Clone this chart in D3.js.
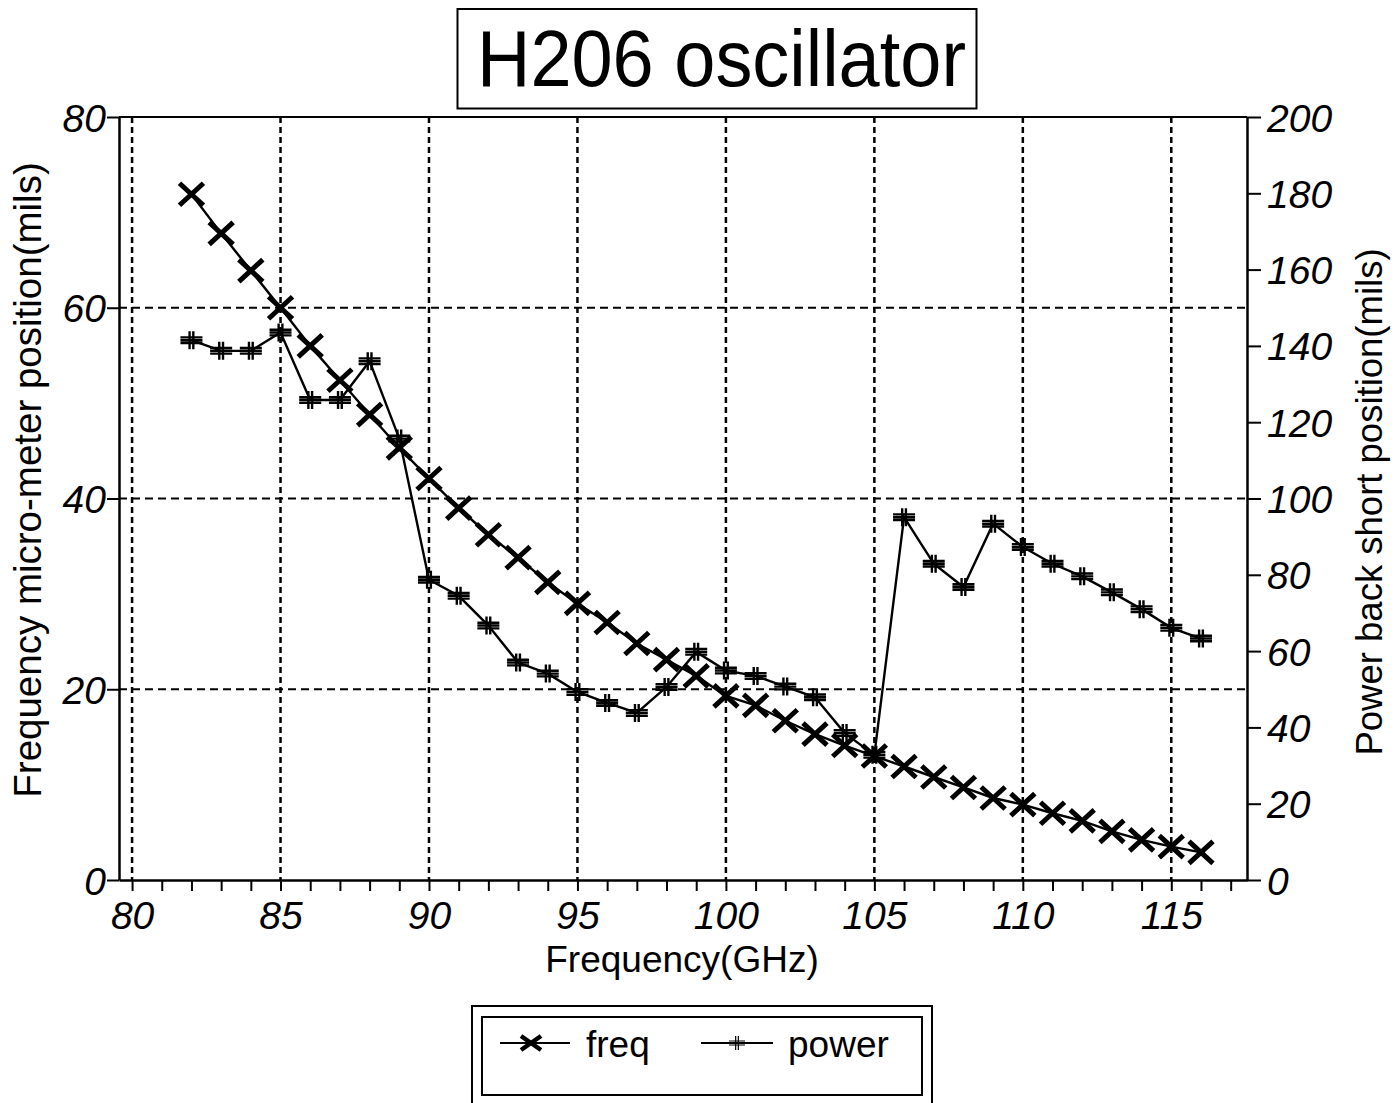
<!DOCTYPE html>
<html>
<head>
<meta charset="utf-8">
<script src="https://cdn.jsdelivr.net/npm/d3@7"></script>
<style>
  html, body { margin: 0; padding: 0; background: #fff; }
  svg { display: block; }
  text { font-family: "Liberation Sans", Arial, Helvetica, sans-serif; fill: #000; }
</style>
</head>
<body>
<svg id="chart" width="1394" height="1103"></svg>
<script>
// ---------------- DATA ----------------
const frequencyGHz = [82, 83, 84, 85, 86, 87, 88, 89, 90, 91, 92, 93, 94, 95, 96, 97, 98, 99, 100,
  101, 102, 103, 104, 105, 106, 107, 108, 109, 110, 111, 112, 113, 114, 115, 116];
// micrometer position (left axis, mils)
const freqSeries = [71.9, 67.8, 63.9, 60.0, 56.0, 52.4, 48.8, 45.3, 42.1, 39.0, 36.2, 33.8, 31.2, 29.0,
  27.0, 24.8, 23.1, 21.4, 19.3, 18.3, 16.7, 15.3, 14.1, 13.0, 11.9, 10.8, 9.7, 8.6, 7.9, 7.0, 6.2, 5.1,
  4.2, 3.5, 2.9];
// back short position (right axis, mils)
const powerSeries = [141.5, 138.7, 138.7, 143.5, 125.8, 125.8, 136.0, 115.7, 78.7, 74.5, 66.7, 57.0,
  54.1, 49.3, 46.4, 43.8, 50.6, 59.8, 54.9, 53.5, 50.7, 47.9, 38.5, 32.8, 95.1, 82.9, 76.8, 93.4, 87.3,
  82.9, 79.6, 75.4, 71.0, 66.1, 63.3];
const xTickLabels = [80, 85, 90, 95, 100, 105, 110, 115];
const xMinorTicks = [80, 81, 82, 83, 84, 85, 86, 87, 88, 89, 90, 91, 92, 93, 94, 95, 96, 97, 98, 99, 100,
  101, 102, 103, 104, 105, 106, 107, 108, 109, 110, 111, 112, 113, 114, 115, 116, 117];
const leftTicks = [0, 20, 40, 60, 80];
const rightTicks = [0, 20, 40, 60, 80, 100, 120, 140, 160, 180, 200];
const hGrid = [20, 40, 60];
const titleText = "H206 oscillator";
const xTitle = "Frequency(GHz)";
const yLeftTitle = "Frequency micro-meter position(mils)";
const yRightTitle = "Power back short position(mils)";
const legendLabels = ["freq", "power"];

// ---------------- LAYOUT ----------------
const svg = d3.select("#chart");
const L = 119, R = 1247, T = 117, B = 880;
const x = d3.scaleLinear().domain([79.56, 117.55]).range([L, R]);
const yL = d3.scaleLinear().domain([0, 80]).range([B, T]);
const yR = d3.scaleLinear().domain([0, 200]).range([B, T]);

// Title box
svg.append("rect").attr("x", 457.5).attr("y", 9).attr("width", 519).attr("height", 99.5)
  .attr("fill", "none").attr("stroke", "#000").attr("stroke-width", 2);
svg.append("text").attr("x", 477).attr("y", 86).attr("font-size", 80)
  .attr("textLength", 489).attr("lengthAdjust", "spacingAndGlyphs").text(titleText);

// Grid lines
const grid = svg.append("g");
grid.selectAll("line.v").data(xTickLabels).join("line")
  .attr("x1", d => x(d)).attr("x2", d => x(d)).attr("y1", T).attr("y2", B)
  .attr("stroke", "#000").attr("stroke-width", 2.5).attr("stroke-dasharray", "6,4");
grid.selectAll("line.h").data(hGrid).join("line")
  .attr("x1", L).attr("x2", R).attr("y1", d => yL(d)).attr("y2", d => yL(d))
  .attr("stroke", "#000").attr("stroke-width", 2.2).attr("stroke-dasharray", "8,5");

// Axes frame
svg.append("line").attr("x1", L).attr("x2", R).attr("y1", T).attr("y2", T).attr("stroke", "#000").attr("stroke-width", 2.2);

// Bottom axis with minor ticks
const xAxis = d3.axisBottom(x).tickValues(xMinorTicks).tickSize(11).tickSizeOuter(0)
  .tickFormat(d => xTickLabels.includes(d) ? d : "");
const gx = svg.append("g").attr("transform", `translate(0,${B})`).call(xAxis);
gx.select(".domain").attr("stroke-width", 2.5);
gx.selectAll(".tick line").attr("stroke-width", 2);
gx.selectAll(".tick text").attr("font-size", 39).attr("font-style", "italic")
  .attr("font-family", "'Liberation Sans', Arial, sans-serif").attr("dy", "0.72em").attr("y", 21);

// Left axis
const yAxisL = d3.axisLeft(yL).tickValues(leftTicks).tickSize(12).tickSizeOuter(0).tickPadding(1);
const gyl = svg.append("g").attr("transform", `translate(${L},0)`).call(yAxisL);
gyl.select(".domain").attr("stroke-width", 2.5);
gyl.selectAll(".tick line").attr("stroke-width", 2);
gyl.selectAll(".tick text").attr("font-size", 39).attr("font-style", "italic")
  .attr("font-family", "'Liberation Sans', Arial, sans-serif").attr("dy", "0.36em");

// Right axis
const yAxisR = d3.axisRight(yR).tickValues(rightTicks).tickSize(14).tickSizeOuter(0).tickPadding(6);
const gyr = svg.append("g").attr("transform", `translate(${R},0)`).call(yAxisR);
gyr.select(".domain").attr("stroke-width", 2.5);
gyr.selectAll(".tick line").attr("stroke-width", 2);
gyr.selectAll(".tick text").attr("font-size", 39).attr("font-style", "italic")
  .attr("font-family", "'Liberation Sans', Arial, sans-serif").attr("dy", "0.36em");

// Axis titles
svg.append("text").attr("x", 682).attr("y", 972).attr("text-anchor", "middle")
  .attr("font-size", 37).text(xTitle);
svg.append("text").attr("transform", "translate(41,480) rotate(-90)").attr("text-anchor", "middle")
  .attr("font-size", 38.5).text(yLeftTitle);
svg.append("text").attr("transform", "translate(1382,502) rotate(-90)").attr("text-anchor", "middle")
  .attr("font-size", 36.5).text(yRightTitle);

// ---------------- SERIES ----------------
const freqData = frequencyGHz.map((f, i) => ({ f, v: freqSeries[i] }));
const powerData = frequencyGHz.map((f, i) => ({ f, v: powerSeries[i] }));

svg.append("path").datum(freqData)
  .attr("d", d3.line().x(d => x(d.f)).y(d => yL(d.v)))
  .attr("fill", "none").attr("stroke", "#000").attr("stroke-width", 2.4);
svg.append("path").datum(powerData)
  .attr("d", d3.line().x(d => x(d.f)).y(d => yR(d.v)))
  .attr("fill", "none").attr("stroke", "#000").attr("stroke-width", 2.4);

function xMarker(g, cx, cy, hw, hh, sw) {
  g.append("path")
    .attr("d", `M${cx - hw},${cy - hh}L${cx + hw},${cy + hh}M${cx - hw},${cy + hh}L${cx + hw},${cy - hh}`)
    .attr("stroke", "#000").attr("stroke-width", sw).attr("fill", "none");
}
function plusMarker(g, cx, cy, hw, hh, gap, sw) {
  let d = "";
  [-gap, 0, gap].forEach(o => { d += `M${cx - hw},${cy + o}L${cx + hw},${cy + o}`; });
  [-gap / 1.5, gap / 1.5].forEach(o => { d += `M${cx + o},${cy - hh}L${cx + o},${cy + hh}`; });
  g.append("path").attr("d", d).attr("stroke", "#000").attr("stroke-width", sw).attr("fill", "none");
}

const mk = svg.append("g");
powerData.forEach(d => plusMarker(mk, x(d.f), yR(d.v), 11, 9, 2.8, 2.4));
freqData.forEach(d => xMarker(mk, x(d.f), yL(d.v), 12, 11, 5));

// ---------------- LEGEND ----------------
svg.append("rect").attr("x", 472).attr("y", 1006).attr("width", 460).attr("height", 110)
  .attr("fill", "none").attr("stroke", "#000").attr("stroke-width", 2);
svg.append("rect").attr("x", 482).attr("y", 1017).attr("width", 440).attr("height", 78)
  .attr("fill", "none").attr("stroke", "#000").attr("stroke-width", 2);
const lg = svg.append("g");
lg.append("line").attr("x1", 500).attr("x2", 570).attr("y1", 1043).attr("y2", 1043)
  .attr("stroke", "#000").attr("stroke-width", 2);
xMarker(lg, 531, 1043, 10, 7, 4.5);
lg.append("text").attr("x", 586).attr("y", 1057).attr("font-size", 37).text(legendLabels[0]);
lg.append("line").attr("x1", 701).attr("x2", 773).attr("y1", 1043).attr("y2", 1043)
  .attr("stroke", "#000").attr("stroke-width", 2);
plusMarker(lg, 737, 1043, 8, 7, 2, 1.2);
lg.append("text").attr("x", 788).attr("y", 1057).attr("font-size", 37).text(legendLabels[1]);
</script>
</body>
</html>
